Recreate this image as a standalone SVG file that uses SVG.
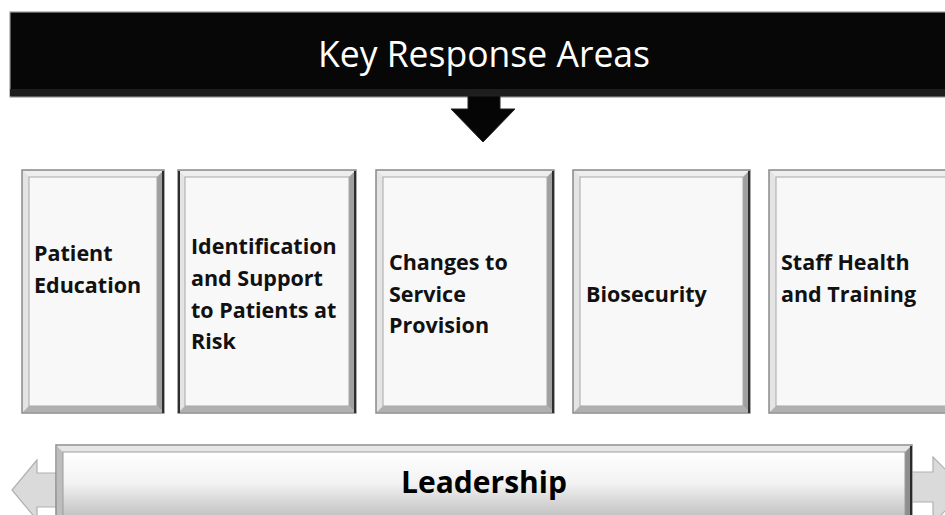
<svg xmlns="http://www.w3.org/2000/svg" width="945" height="515" viewBox="0 0 945 515">
<defs>
<style>
.face{fill:#f8f8f8;stroke:#a8a8a8;stroke-width:1}
.frame{fill:#dcdcdc;stroke:#8a8a8a;stroke-width:1.5}
.bt{fill:#eeeeee}
.bl{fill:#e4e4e4}
.br{fill:#a0a0a0}
.bb{fill:#b0b0b0}
.dk{stroke:#2e2e2e;stroke-width:2;fill:none}
.lbl{font-family:"Open Sans","Liberation Sans",sans-serif;font-weight:bold;font-size:21.5px;fill:#111}
.ttl{font-family:"Open Sans","Liberation Sans",sans-serif;font-size:37px;fill:#fff}
.lead{font-family:"Open Sans","Liberation Sans",sans-serif;font-weight:bold;font-size:30px;fill:#000}
.side{fill:#dadada;stroke:#b0b0b0;stroke-width:1.2}
</style>
<linearGradient id="silver" x1="0" y1="0" x2="0" y2="1">
<stop offset="0" stop-color="#ffffff"/>
<stop offset="0.45" stop-color="#f2f2f2"/>
<stop offset="1" stop-color="#b9b9b9"/>
</linearGradient>
</defs>

<g id="header">
<rect x="10" y="12" width="945" height="85" fill="#070707" stroke="#9a9a9a" stroke-width="1.2"/>
<rect x="10" y="89" width="945" height="7" fill="#1e1e1e"/>
<text class="ttl" x="484" y="67" text-anchor="middle" textLength="332" lengthAdjust="spacingAndGlyphs">Key Response Areas</text>
</g>

<g id="connectors">
<polygon points="468,96 500,96 500,109 515,109 483,142 451,109 468,109" fill="#050505" stroke="#222" stroke-width="1"/>
</g>

<g id="box1">
<rect class="frame" x="22" y="170" width="142" height="243"/>
<polygon class="bt" points="23,171 163,171 157,177 29,177"/>
<polygon class="bl" points="23,171 29,177 29,406 23,412"/>
<polygon class="br" points="163,171 163,412 157,406 157,177"/>
<polygon class="bb" points="23,412 163,412 157,406 29,406"/>
<line class="dk" x1="163" y1="171" x2="163" y2="413"/>
<rect class="face" x="29" y="177" width="128" height="229"/>
<text class="lbl" x="34" y="261">Patient</text>
<text class="lbl" x="34" y="293">Education</text>
</g>

<g id="box2">
<rect class="frame" x="178" y="170" width="178" height="243" stroke="#3a3a3a"/>
<polygon class="bt" points="179,171 355,171 349,177 185,177"/>
<polygon class="bl" points="179,171 185,177 185,406 179,412"/>
<polygon class="br" points="355,171 355,412 349,406 349,177"/>
<polygon class="bb" points="179,412 355,412 349,406 185,406"/>
<line class="dk" x1="355" y1="171" x2="355" y2="413"/>
<line class="dk" x1="179" y1="171" x2="179" y2="413" stroke="#444" stroke-width="1.5"/>
<rect class="face" x="185" y="177" width="164" height="229"/>
<text class="lbl" x="191" y="254">Identification</text>
<text class="lbl" x="191" y="286">and Support</text>
<text class="lbl" x="191" y="318">to Patients at</text>
<text class="lbl" x="191" y="349">Risk</text>
</g>

<g id="box3">
<rect class="frame" x="376" y="170" width="178" height="243"/>
<polygon class="bt" points="377,171 553,171 547,177 383,177"/>
<polygon class="bl" points="377,171 383,177 383,406 377,412"/>
<polygon class="br" points="553,171 553,412 547,406 547,177"/>
<polygon class="bb" points="377,412 553,412 547,406 383,406"/>
<line class="dk" x1="553" y1="171" x2="553" y2="413"/>
<rect class="face" x="383" y="177" width="164" height="229"/>
<text class="lbl" x="389" y="270">Changes to</text>
<text class="lbl" x="389" y="302">Service</text>
<text class="lbl" x="389" y="333">Provision</text>
</g>

<g id="box4">
<rect class="frame" x="573" y="170" width="177" height="243"/>
<polygon class="bt" points="574,171 749,171 743,177 580,177"/>
<polygon class="bl" points="574,171 580,177 580,406 574,412"/>
<polygon class="br" points="749,171 749,412 743,406 743,177"/>
<polygon class="bb" points="574,412 749,412 743,406 580,406"/>
<line class="dk" x1="749" y1="171" x2="749" y2="413"/>
<rect class="face" x="580" y="177" width="163" height="229"/>
<text class="lbl" x="586" y="302">Biosecurity</text>
</g>

<g id="box5">
<rect class="frame" x="769" y="170" width="182" height="243"/>
<polygon class="bt" points="770,171 950,171 944,177 776,177"/>
<polygon class="bl" points="770,171 776,177 776,406 770,412"/>
<polygon class="bb" points="770,412 950,412 944,406 776,406"/>
<rect class="face" x="776" y="177" width="175" height="229"/>
<text class="lbl" x="781" y="270">Staff Health</text>
<text class="lbl" x="781" y="302">and Training</text>
</g>

<g id="leadership">
<polygon class="side" points="58,473 37,473 37,460 12,490 37,520 37,507 58,507"/>
<polygon class="side" points="910,472 933,472 933,457 966,490 933,523 933,502 910,502"/>
<rect x="56" y="445" width="856" height="80" fill="url(#silver)" stroke="#8c8c8c" stroke-width="1.5"/>
<polygon points="57,446 911,446 905,452 63,452" fill="#e6e6e6"/>
<polygon points="57,446 63,452 63,520 57,520" fill="#bdbdbd"/>
<polygon points="911,446 911,520 905,520 905,452" fill="#8e8e8e"/>
<line x1="911" y1="446" x2="911" y2="520" stroke="#2a2a2a" stroke-width="2"/>
<rect x="63" y="452" width="842" height="70" fill="url(#silver)" stroke="#9c9c9c" stroke-width="1"/>
<text class="lead" x="484" y="493" text-anchor="middle">Leadership</text>
</g>
</svg>
